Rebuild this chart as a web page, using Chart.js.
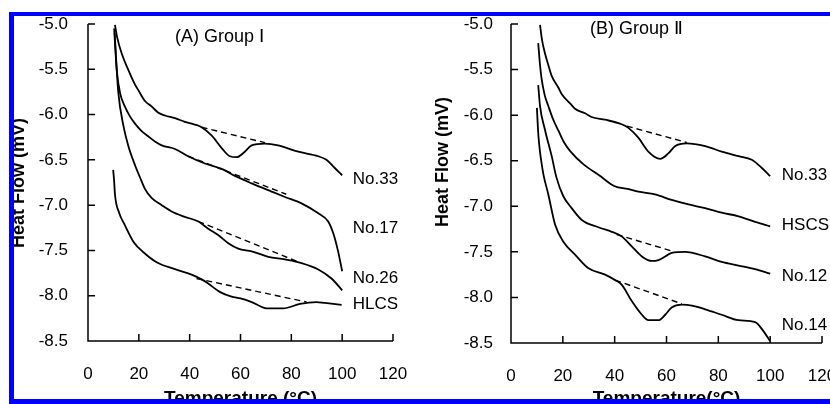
<!DOCTYPE html>
<html>
<head>
<meta charset="utf-8">
<script src="https://cdn.jsdelivr.net/npm/chart.js@4.4.0/dist/chart.umd.min.js"></script>
<style>
  html, body { margin: 0; padding: 0; background: #fff; }
  #wrap { position: relative; width: 830px; height: 404px; overflow: hidden; background: #fff; }
  #wrap canvas { position: absolute; top: 0; }
  #frame {
    position: absolute; left: 9px; top: 12px; width: 840px; height: 392px;
    border-top: 4px solid #0000ff; border-left: 5px solid #0000ff; border-bottom: 5px solid #0000ff;
    box-sizing: border-box; pointer-events: none; z-index: 2;
  }
</style>
</head>
<body>
<div id="wrap">
  <canvas id="chartA" width="415" height="404" style="left:0"></canvas>
  <canvas id="chartB" width="450" height="404" style="left:415px"></canvas>
  <div id="frame"></div>
</div>
<script>
// tick values shared by both panels
const xTicks = [0, 20, 40, 60, 80, 100, 120];
const yTicks = [-8.5, -8.0, -7.5, -7.0, -6.5, -6.0, -5.5, -5.0];

// (A) Group I  -- [temperature °C, heat flow mV]
const groupINames = ['No.33', 'No.17', 'No.26', 'HLCS'];
const groupI_No33 = [[10.6,-5.01],[11.5,-5.15],[13.2,-5.32],[15.9,-5.51],[18.5,-5.67],[19.8,-5.73],[22.4,-5.85],[25,-5.91],[27.7,-5.98],[30.3,-6.01],[34.2,-6.04],[38.1,-6.08],[42,-6.11],[44.7,-6.14],[48.6,-6.23],[52.6,-6.37],[55.8,-6.46],[58.5,-6.47],[61.7,-6.41],[64.4,-6.34],[69.6,-6.32],[74.8,-6.34],[82.7,-6.41],[90.6,-6.46],[93.8,-6.50],[97.1,-6.59],[100,-6.67]];
const groupI_No17 = [[10.3,-5.05],[10.8,-5.3],[11.3,-5.51],[12.6,-5.76],[14.5,-5.91],[16.5,-6.02],[18.5,-6.10],[21,-6.18],[23.7,-6.24],[26.5,-6.30],[29,-6.34],[34.2,-6.38],[39.4,-6.46],[46,-6.54],[52.6,-6.60],[58,-6.68],[64.4,-6.76],[72.2,-6.85],[77.5,-6.91],[84,-6.98],[90.6,-7.09],[94.5,-7.18],[96.5,-7.31],[98.4,-7.51],[100,-7.73]];
const groupI_No26 = [[10.5,-5.1],[11.2,-5.45],[11.9,-5.75],[13.9,-6.12],[15.9,-6.35],[18.5,-6.56],[21,-6.73],[22.4,-6.82],[25,-6.92],[29,-7.00],[32.9,-7.07],[38.1,-7.13],[43.4,-7.18],[47.3,-7.26],[51.2,-7.33],[55.2,-7.42],[59.1,-7.48],[64.4,-7.51],[70.9,-7.57],[77.5,-7.60],[84,-7.64],[90.6,-7.71],[95.8,-7.81],[100,-7.94]];
const groupI_HLCS = [[9.9,-6.61],[10.3,-6.74],[10.6,-6.88],[12.2,-7.08],[14.5,-7.22],[18,-7.41],[21.8,-7.52],[27,-7.63],[34.5,-7.71],[41,-7.77],[44.7,-7.82],[47,-7.86],[52,-7.96],[56.5,-8.01],[60,-8.03],[64.4,-8.07],[70.3,-8.14],[76.8,-8.14],[83.4,-8.09],[89.9,-8.07],[93.2,-8.08],[99.8,-8.10]];
const groupI_base = [
  [[44.7,-6.14],[69.6,-6.31]],
  [[39.4,-6.46],[78,-6.88]],
  [[43.4,-7.18],[83,-7.63]],
  [[42.7,-7.81],[86,-8.07]]
];

// (B) Group II
const groupIINames = ['No.33', 'HSCS', 'No.12', 'No.14'];
const groupII_No33 = [[11.2,-5.01],[12,-5.18],[13.1,-5.32],[14.4,-5.45],[15.7,-5.57],[18.3,-5.70],[19.6,-5.77],[23.4,-5.89],[24.7,-5.93],[28.6,-5.98],[31.1,-6.02],[36.3,-6.05],[42.7,-6.10],[45.3,-6.14],[49.2,-6.25],[53,-6.40],[57.5,-6.48],[60.7,-6.42],[63.3,-6.34],[67.8,-6.31],[74.9,-6.34],[81.3,-6.40],[87.8,-6.45],[92.9,-6.49],[96.8,-6.58],[100,-6.67]];
const groupII_HSCS = [[10.5,-5.21],[11.2,-5.45],[11.8,-5.6],[13,-5.78],[14.4,-5.9],[16.3,-6.05],[18.3,-6.17],[20.5,-6.3],[23,-6.4],[28,-6.54],[34,-6.66],[40,-6.78],[45,-6.81],[49.2,-6.84],[55.6,-6.87],[62,-6.93],[68.5,-6.98],[74.9,-7.02],[81.3,-7.07],[87.8,-7.11],[94.2,-7.17],[100,-7.22]];
const groupII_No12 = [[10.5,-5.67],[11.2,-5.9],[13.1,-6.16],[15.7,-6.45],[17.5,-6.68],[20.2,-6.89],[23.4,-7.02],[27.3,-7.15],[33.7,-7.23],[38.9,-7.28],[42.7,-7.33],[46.6,-7.44],[50.5,-7.55],[54.3,-7.60],[56.9,-7.59],[59.5,-7.55],[62,-7.51],[67.2,-7.50],[74.9,-7.55],[81.3,-7.61],[87.8,-7.65],[94.2,-7.69],[100,-7.74]];
const groupII_No14 = [[10,-5.92],[10.4,-6.15],[10.8,-6.3],[11.5,-6.47],[12.5,-6.65],[14.4,-6.87],[17,-7.20],[20.2,-7.39],[24.7,-7.53],[29.9,-7.68],[36.3,-7.75],[40.2,-7.81],[42.7,-7.86],[46.6,-8.04],[50.5,-8.19],[53,-8.25],[56.9,-8.25],[59.5,-8.19],[62,-8.11],[65.9,-8.08],[69.8,-8.09],[74.9,-8.13],[81.3,-8.19],[87.8,-8.25],[94.2,-8.27],[97.4,-8.37],[100,-8.48]];
const groupII_base = [
  [[44.7,-6.12],[67.8,-6.30]],
  [[40.8,-7.31],[62,-7.49]],
  [[40.2,-7.81],[65.9,-8.07]]
];

const FONT = '"Liberation Sans", Arial, Helvetica, sans-serif';

const toXY = (arr) => arr.map(p => ({ x: p[0], y: p[1] }));

// axes, inward ticks, titles and curve names drawn on top
const decorPlugin = {
  id: 'decor',
  afterDraw(chart, args, o) {
    const ctx = chart.ctx;
    const xs = chart.scales.x, ys = chart.scales.y;
    const a = chart.chartArea;
    ctx.save();
    ctx.strokeStyle = '#000';
    ctx.lineWidth = 1.5;
    ctx.beginPath();
    ctx.moveTo(a.left, a.top);
    ctx.lineTo(a.left, a.bottom);
    ctx.lineTo(a.right, a.bottom);
    yTicks.forEach(v => {
      if (v === -8.5) return;
      const py = ys.getPixelForValue(v);
      ctx.moveTo(a.left, py);
      ctx.lineTo(a.left + 7, py);
    });
    xTicks.forEach(v => {
      if (v === 0) return;
      const px = xs.getPixelForValue(v);
      ctx.moveTo(px, a.bottom);
      ctx.lineTo(px, a.bottom - 7);
    });
    ctx.stroke();

    ctx.fillStyle = '#000';
    ctx.textBaseline = 'middle';
    ctx.textAlign = 'left';
    ctx.font = '18px ' + FONT;
    ctx.fillText(o.title, xs.getPixelForValue(o.titleAt[0]), ys.getPixelForValue(o.titleAt[1]));
    ctx.font = '17px ' + FONT;
    o.names.forEach((n, i) => {
      ctx.fillText(n, xs.getPixelForValue(o.nameX), ys.getPixelForValue(o.nameY[i]));
    });

    ctx.font = 'bold 19px ' + FONT;
    ctx.textAlign = 'center';
    ctx.textBaseline = 'alphabetic';
    ctx.fillText(o.xTitle, (a.left + a.right) / 2, 404);
    ctx.font = 'bold 18px ' + FONT;
    ctx.translate(o.yTitlePos[0], o.yTitlePos[1]);
    ctx.rotate(-Math.PI / 2);
    ctx.textBaseline = 'middle';
    ctx.fillText('Heat Flow (mV)', 0, 0);
    ctx.restore();
  }
};

function makePanel(id, curves, bases, box, decor) {
  const canvas = document.getElementById(id);
  const datasets = curves.map(c => ({
    data: toXY(c),
    borderColor: '#000',
    borderWidth: 1.8,
    pointRadius: 0,
    showLine: true,
    cubicInterpolationMode: 'monotone'
  })).concat(bases.map(b => ({
    data: toXY(b),
    borderColor: '#000',
    borderWidth: 1.4,
    borderDash: [6, 4],
    pointRadius: 0,
    showLine: true
  })));

  return new Chart(canvas, {
    type: 'scatter',
    data: { datasets },
    options: {
      responsive: false,
      animation: false,
      devicePixelRatio: 1,
      layout: {
        autoPadding: false,
        padding: { left: 0, top: box.top, right: canvas.width - box.right, bottom: 404 - box.bottom - 40 }
      },
      plugins: { legend: { display: false }, tooltip: { enabled: false }, decor },
      scales: {
        x: {
          type: 'linear', min: 0, max: 120,
          afterBuildTicks: s => { s.ticks = xTicks.map(v => ({ value: v })); },
          afterFit: s => { s.height = 40; },
          grid: { display: false, drawTicks: true, tickLength: 23 },
          border: { display: false },
          ticks: { color: '#000', font: { family: FONT, size: 17 }, padding: 0, maxRotation: 0, autoSkip: false }
        },
        y: {
          type: 'linear', min: -8.5, max: -5,
          afterBuildTicks: s => { s.ticks = yTicks.map(v => ({ value: v })); },
          afterFit: s => { s.width = box.left; },
          grid: { display: false, drawTicks: true, tickLength: box.labelGap },
          border: { display: false },
          ticks: { color: '#000', font: { family: FONT, size: 17 }, padding: 0, callback: v => v.toFixed(1) }
        }
      }
    },
    plugins: [decorPlugin]
  });
}

makePanel('chartA',
  [groupI_No33, groupI_No17, groupI_No26, groupI_HLCS], groupI_base,
  { left: 88, right: 393, top: 24, bottom: 341, labelGap: 20 },
  { title: '(A) Group \u2160', titleAt: [34.2, -5.14], names: groupINames, nameX: 104.2,
    nameY: [-6.71, -7.26, -7.81, -8.09], xTitle: 'Temperature (\u00B0C)', yTitlePos: [19, 183] });

makePanel('chartB',
  [groupII_No33, groupII_HSCS, groupII_No12, groupII_No14], groupII_base,
  { left: 96, right: 407, top: 24, bottom: 343, labelGap: 18 },
  { title: '(B) Group \u2161', titleAt: [30.5, -5.06], names: groupIINames, nameX: 104.5,
    nameY: [-6.665, -7.21, -7.77, -8.31], xTitle: 'Temperature(\u00B0C)', yTitlePos: [28, 162] });
</script>
</body>
</html>
